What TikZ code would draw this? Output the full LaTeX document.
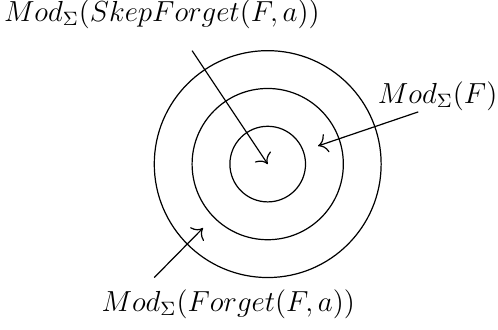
\documentclass[tikz,border=0pt]{standalone}
\usetikzlibrary{arrows.meta}

\begin{document}
\begin{tikzpicture}[scale=0.55,
    lbl/.style={anchor=base west,inner sep=0,font=\large},
    ptr/.style={-{To[scale=1.4]}},
    every path/.style={line width=0.5pt}]
  \useasboundingbox (-7.08,-4.37) rectangle (6.09,4.34);
  % circles
  \coordinate (c) at (0,0);
  \foreach \r in {1,2,3}
    \draw (c) circle (\r);
  % labels
  \node[lbl] (skep) at (-6.99,3.78) {$Mod_\Sigma(SkepForget(F,a))$};
  \node[lbl] (modf) at (2.90,1.61) {$Mod_\Sigma(F)$};
  \node[lbl] (forget) at (-4.41,-3.89) {$Mod_\Sigma(Forget(F,a))$};
  % arrows
  \coordinate (skepfrom) at (-2,3);
  \coordinate (modffrom) at (3.98,1.38);
  \coordinate (modfto) at (1.33,0.48);
  \coordinate (forgetfrom) at (-3,-3);
  \coordinate (forgetto) at (-1.71,-1.69);
  \draw[ptr] (skepfrom) -- (c);
  \draw[ptr] (modffrom) -- (modfto);
  \draw[ptr] (forgetfrom) -- (forgetto);
\end{tikzpicture}
\end{document}
